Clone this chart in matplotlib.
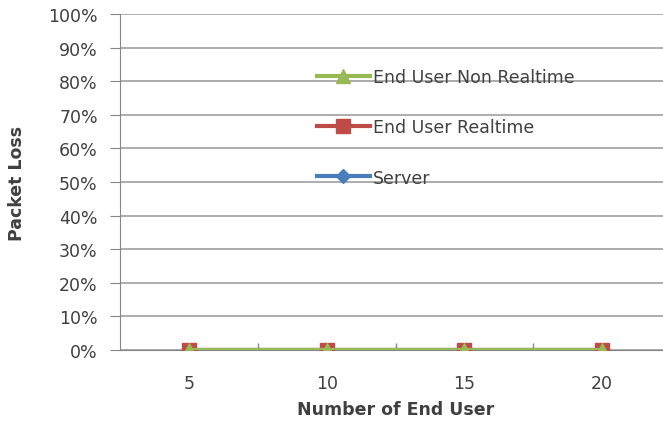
import matplotlib
matplotlib.use("Agg")
import matplotlib.pyplot as plt
from matplotlib.ticker import FuncFormatter, FixedLocator

# Packet loss per number of end users
users = [5, 10, 15, 20]
server = [0, 0, 0, 0]
end_user_realtime = [0, 0, 0, 0]
end_user_non_realtime = [0, 0, 0, 0]
y_ticks = [0, 0.1, 0.2, 0.3, 0.4, 0.5, 0.6, 0.7, 0.8, 0.9, 1.0]

fig = plt.figure(figsize=(6.63, 4.31), dpi=100)
ax = fig.add_axes([120 / 663, 1 - 351 / 431, 551 / 663, 336 / 431])

text_col = "#404040"
font = "DejaVu Sans"
fs = 12.5

ax.plot(users, server, color="#4a7ebb", lw=3, marker="D", ms=7,
        label="Server", zorder=3)
ax.plot(users, end_user_realtime, color="#be4b48", lw=3, marker="s", ms=10,
        label="End User Realtime", zorder=4)
ax.plot(users, end_user_non_realtime, color="#98b954", lw=3, marker="^", ms=10,
        label="End User Non Realtime", zorder=5)

ax.set_xlim(2.5, 22.5)
ax.set_ylim(0, 1.0)
ax.set_xticks(users)
ax.xaxis.set_minor_locator(FixedLocator([7.5, 12.5, 17.5]))
ax.tick_params(axis="x", which="major", length=0, pad=17, labelsize=fs,
               labelcolor=text_col)
ax.tick_params(axis="x", which="minor", length=5, direction="in",
               color="#868686", width=1)
ax.set_yticks(y_ticks)
ax.yaxis.set_major_formatter(FuncFormatter(lambda v, p: f"{v * 100:.0f}%"))
ax.tick_params(axis="y", length=7, direction="out", color="#868686",
               labelsize=fs, labelcolor=text_col, pad=9)
for lbl in ax.get_xticklabels() + ax.get_yticklabels():
    lbl.set_fontfamily(font)

ax.grid(axis="y", color="#a6a6a6", lw=1.3)
ax.set_axisbelow(True)
for s in ("top", "right"):
    ax.spines[s].set_visible(False)
ax.spines["left"].set_color("#868686")
ax.spines["bottom"].set_color("#868686")
ax.spines["bottom"].set_zorder(2)

ax.set_xlabel("Number of End User", fontsize=fs, fontweight="bold",
              color=text_col, family=font, labelpad=6)
ax.set_ylabel("Packet Loss", fontsize=fs, fontweight="bold",
              color=text_col, family=font, labelpad=16)

handles, labels = ax.get_legend_handles_labels()
leg = ax.legend(handles[::-1], labels[::-1], loc="upper left",
                bbox_to_anchor=(0.33, 0.885), frameon=False,
                labelspacing=1.85, handlelength=3.0, handletextpad=0.2,
                prop={"family": font, "size": fs})
for t in leg.get_texts():
    t.set_color(text_col)

fig.savefig("out.png", dpi=100)
